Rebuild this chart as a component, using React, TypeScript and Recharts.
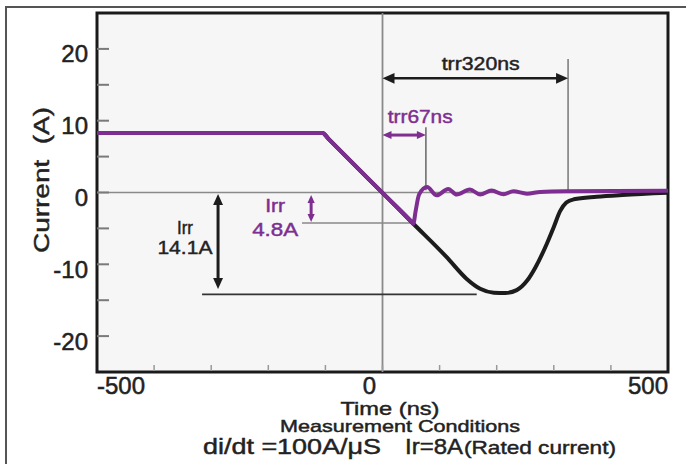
import React from 'react';
import { LineChart, Line, XAxis, YAxis, CartesianGrid, ReferenceLine, ReferenceArea, ReferenceDot, Customized } from 'recharts';

const FONT = '"Liberation Sans", Arial, Helvetica, sans-serif';

// reverse recovery waveforms, time in ns, current in A
const blackTime = [-500, -105, -95, 0, 54, 112, 147, 171, 195, 215, 235, 253, 268, 288, 300, 311, 322, 335, 375, 420, 500];
const blackCurrent = [8.3, 8.3, 7.5, -0.06, -4.35, -8.97, -12.0, -13.4, -13.95, -14.0, -13.6, -12.3, -10.4, -7.1, -4.8, -2.6, -1.4, -0.95, -0.6, -0.35, -0.05];

const purpleTime = [-500, -105, -95, 0, 50, 54, 58, 64, 78, 95, 115, 130, 153, 171, 191, 212, 229, 253, 276, 320, 500];
const purpleCurrent = [8.3, 8.3, 7.5, -0.06, -4.0, -4.35, -2.6, -0.3, 0.75, -0.4, 0.5, -0.28, 0.42, -0.28, 0.28, -0.26, 0.18, -0.16, 0.08, 0.18, 0.25];

const blackData = blackTime.map((t, i) => ({ t, i: blackCurrent[i] }));
const purpleData = purpleTime.map((t, i) => ({ t, i: purpleCurrent[i] }));

// axes
const xTicks = [-500, -400, -300, -200, -100, 0, 100, 200, 300, 400, 500];
const xLabelled = [-500, 0, 500];
const yTicks = [-20, -15, -10, -5, 0, 5, 10, 15, 20];
const yLabelled = [-20, -10, 0, 10, 20];

// trr markers
const trrLong = { start: 0, end: 325, level: 15.9, top: 18.6 };
const trrShort = { start: 0, end: 76, level: 8.0, top: 9.1, bottom: 0.3 };
// Irr markers
const irrBlack = { from: -316, to: 165, level: -14.2, arrowAt: -288, arrowTop: -0.2, arrowBottom: -13.45 };
const irrPurple = { from: -141, to: 53, level: -4.25, arrowAt: -125, arrowTop: -0.35, arrowBottom: -4.1 };

// annotation texts
const noteText = ['trr320ns', 'trr67ns', 'Irr', '14.1A', 'Irr', '4.8A'];
const noteTime = [172, 66, -346, -346, -188, -188];
const noteCurrent = [17.9, 10.65, -4.95, -7.7, -1.9, -5.1];

const BLACK = '#1c1c1c';
const PURPLE = '#7d2e90';
const INK = '#222';
const noteStyle = [
  { color: INK, size: 18, len: 78 },
  { color: PURPLE, size: 19, len: 65 },
  { color: INK, size: 18, len: 16 },
  { color: INK, size: 19, len: 55 },
  { color: PURPLE, size: 18, len: 20 },
  { color: PURPLE, size: 19, len: 46 },
];

const arrowShape = (color: string, width: number, head: number) => (p: any) => {
  const { x1, y1, x2, y2 } = p;
  const dx = x2 - x1;
  const dy = y2 - y1;
  const len = Math.hypot(dx, dy) || 1;
  const ux = dx / len;
  const uy = dy / len;
  const hw = head * 0.45;
  const tip = (tx: number, ty: number, d: number) => {
    const bx = tx - ux * d * head;
    const by = ty - uy * d * head;
    return `${tx},${ty} ${bx - uy * hw},${by + ux * hw} ${bx + uy * hw},${by - ux * hw}`;
  };
  return (
    <g>
      <line
        x1={x1 + ux * head * 0.7}
        y1={y1 + uy * head * 0.7}
        x2={x2 - ux * head * 0.7}
        y2={y2 - uy * head * 0.7}
        stroke={color}
        strokeWidth={width}
      />
      <polygon points={tip(x1, y1, -1)} fill={color} />
      <polygon points={tip(x2, y2, 1)} fill={color} />
    </g>
  );
};

const textShape = (text: string, color: string, size: number, len: number) => (p: any) => (
  <text
    x={p.cx}
    y={p.cy}
    textAnchor="middle"
    dominantBaseline="central"
    fill={color}
    stroke={color}
    strokeWidth={0.45}
    fontSize={size}
    fontFamily={FONT}
    textLength={len}
    lengthAdjust="spacingAndGlyphs"
  >
    {text}
  </text>
);

const XTick = (props: any) => {
  const { x, y, payload } = props;
  const v = payload.value;
  const showLabel = xLabelled.includes(v);
  const anchor = v === -500 ? 'start' : v === 500 ? 'end' : 'middle';
  return (
    <g>
      {Math.abs(v) < 500 && <line x1={x} x2={x} y1={y - 1} y2={y - 7} stroke="#999" strokeWidth={1.5} />}
      {showLabel && (
        <text x={v === 0 ? x - 13 : x} y={y + 13} textAnchor={anchor} dominantBaseline="central" fill={INK} stroke={INK} strokeWidth={0.5} fontSize={24} fontFamily={FONT}>
          {v}
        </text>
      )}
    </g>
  );
};

const YTick = (props: any) => {
  const { x, y, payload } = props;
  const v = payload.value;
  return (
    <g>
      <line x1={x} x2={x + 12} y1={y} y2={y} stroke="#7a7a7a" strokeWidth={2} />
      {yLabelled.includes(v) && (
        <text x={x - 9} y={y + 5} textAnchor="end" dominantBaseline="central" fill={INK} stroke={INK} strokeWidth={0.5} fontSize={24} fontFamily={FONT}>
          {v}
        </text>
      )}
    </g>
  );
};

const Captions = () => (
  <g fill={INK} stroke={INK} strokeWidth={0.45} fontFamily={FONT}>
    <text
      transform="translate(41,180) rotate(-90)"
      textAnchor="middle"
      dominantBaseline="central"
      fontSize={22}
      textLength={146}
      lengthAdjust="spacingAndGlyphs"
    >
      {'Current\u00A0\u00A0(A)'}
    </text>
    <text x={390} y={408} textAnchor="middle" dominantBaseline="central" fontSize={19} textLength={99} lengthAdjust="spacingAndGlyphs">
      Time (ns)
    </text>
    <text x={400} y={426} textAnchor="middle" dominantBaseline="central" fontSize={17} textLength={240} lengthAdjust="spacingAndGlyphs">
      Measurement Conditions
    </text>
    <text x={203} y={446} dominantBaseline="central" fontSize={22} textLength={178} lengthAdjust="spacingAndGlyphs">
      di/dt =100A/μS
    </text>
    <text x={405} y={446} dominantBaseline="central" fontSize={22} textLength={58} lengthAdjust="spacingAndGlyphs">
      Ir=8A
    </text>
    <text x={464} y={447} dominantBaseline="central" fontSize={19} textLength={152} lengthAdjust="spacingAndGlyphs">
      (Rated current)
    </text>
  </g>
);

export default function App() {
  return (
    <div style={{ position: 'absolute', left: 0, top: 0, width: 686, height: 464, overflow: 'hidden', background: '#fff' }}>
      <div style={{ position: 'absolute', left: 5, top: 6, width: 700, height: 480, borderLeft: '2px solid #555', borderTop: '2px solid #555' }} />
      <div style={{ position: 'absolute', left: 0, top: 0 }}>
        <LineChart width={686} height={464} margin={{ top: 13, right: 18, bottom: 62, left: 0 }}>
          <CartesianGrid horizontal={false} vertical={false} fill="#f6f6f6" />
          <XAxis
            type="number"
            dataKey="t"
            domain={[-500, 500]}
            ticks={xTicks}
            allowDataOverflow
            height={30}
            tickSize={0}
            tickMargin={0}
            tickLine={false}
            axisLine={false}
            tick={<XTick />}
          />
          <YAxis
            type="number"
            domain={[-25, 25]}
            ticks={yTicks}
            allowDataOverflow
            width={97}
            tickSize={0}
            tickMargin={0}
            tickLine={false}
            axisLine={false}
            tick={<YTick />}
          />
          <ReferenceLine y={0} stroke="#8a8a8a" strokeWidth={1.5} />
          <ReferenceLine x={0} stroke="#8a8a8a" strokeWidth={1.8} />

          {/* trr guides */}
          <ReferenceLine segment={[{ x: trrLong.end, y: 0 }, { x: trrLong.end, y: trrLong.top }]} stroke="#777" strokeWidth={1.5} />
          <ReferenceLine segment={[{ x: trrShort.end, y: trrShort.bottom }, { x: trrShort.end, y: trrShort.top }]} stroke="#666" strokeWidth={1.5} />
          {/* Irr guides */}
          <ReferenceLine segment={[{ x: irrBlack.from, y: irrBlack.level }, { x: irrBlack.to, y: irrBlack.level }]} stroke="#333" strokeWidth={1.8} />
          <ReferenceLine segment={[{ x: irrPurple.from, y: irrPurple.level }, { x: irrPurple.to, y: irrPurple.level }]} stroke="#888" strokeWidth={1.5} />

          <Line data={blackData} dataKey="i" type="monotone" stroke={BLACK} strokeWidth={4} dot={false} activeDot={false} isAnimationActive={false} />
          <Line data={purpleData} dataKey="i" type="monotone" stroke={PURPLE} strokeWidth={4} dot={false} activeDot={false} isAnimationActive={false} />

          <ReferenceLine
            segment={[{ x: trrLong.start, y: trrLong.level }, { x: trrLong.end, y: trrLong.level }]}
            shape={arrowShape(BLACK, 2.5, 12)}
          />
          <ReferenceLine
            segment={[{ x: trrShort.start, y: trrShort.level }, { x: trrShort.end, y: trrShort.level }]}
            shape={arrowShape(PURPLE, 3, 9)}
          />
          <ReferenceLine
            segment={[{ x: irrBlack.arrowAt, y: irrBlack.arrowTop }, { x: irrBlack.arrowAt, y: irrBlack.arrowBottom }]}
            shape={arrowShape(BLACK, 3, 11)}
          />
          <ReferenceLine
            segment={[{ x: irrPurple.arrowAt, y: irrPurple.arrowTop }, { x: irrPurple.arrowAt, y: irrPurple.arrowBottom }]}
            shape={arrowShape(PURPLE, 3, 8)}
          />

          {noteText.map((txt, k) => (
            <ReferenceDot
              key={k}
              x={noteTime[k]}
              y={noteCurrent[k]}
              shape={textShape(txt, noteStyle[k].color, noteStyle[k].size, noteStyle[k].len)}
            />
          ))}

          <ReferenceArea x1={-500} x2={500} y1={-25} y2={25} fill="none" stroke="#1a1a1a" strokeWidth={3} />
          <Customized component={<Captions />} />
        </LineChart>
      </div>
    </div>
  );
}
